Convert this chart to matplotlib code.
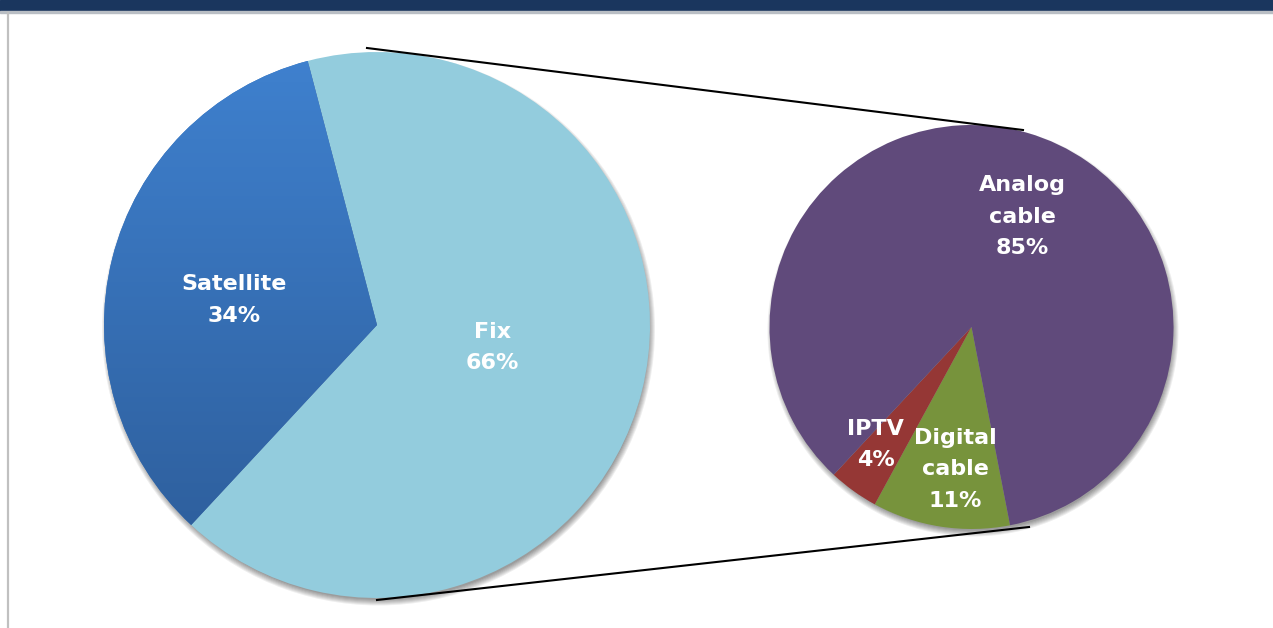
import numpy as np
import matplotlib
matplotlib.use("Agg")
import matplotlib.pyplot as plt
from matplotlib.colors import LinearSegmentedColormap
from matplotlib.patches import Circle, Rectangle

# Market split: reception mode, and breakdown of the fixed-line share
main_labels = ["Fix", "Satellite"]
main_values = [66, 34]
sub_labels = ["Digital\ncable", "IPTV", "Analog\ncable"]
sub_values = [11, 4, 85]

W, H = 1273, 628
fig = plt.figure(figsize=(W / 100, H / 100), dpi=100)
ax = fig.add_axes([0, 0, 1, 1])
ax.set_xlim(0, W)
ax.set_ylim(0, H)
ax.set_aspect("equal")
ax.axis("off")


def py(y):
    """Convert a top-down pixel row to the axes' bottom-up y."""
    return H - y


# Frame: navy header band, thin grey rule and left border
ax.add_patch(Rectangle((0, py(11)), W, 11, color="#1A365E", zorder=5))
ax.add_patch(Rectangle((0, py(13)), W, 2, color="#B9BEC4", zorder=5))
ax.plot([8, 8], [0, py(13)], color="#C0C0C0", lw=1.6, zorder=5)

big_c, big_r = (377, py(325)), 273
small_c, small_r = (971.5, py(327)), 202


def shadow(center, r):
    for k in range(7):
        ax.add_patch(Circle((center[0] + 1.5, center[1] - 4), r + k - 2.5,
                            color="#000000", alpha=0.065, lw=0, zorder=1))


shadow(big_c, big_r)
shadow(small_c, small_r)

# Main pie
big_colors = ["#93CCDD", "#3A76BF"]
wedges_big, _ = ax.pie(main_values, center=big_c, radius=big_r,
                       startangle=104.7, counterclock=False,
                       colors=big_colors,
                       wedgeprops=dict(linewidth=0))
for w in wedges_big:
    w.set_zorder(2)

# Vertical gradient fill for the satellite slice
grad = LinearSegmentedColormap.from_list("sat", ["#2C5B97", "#3F81CF"])
gy = np.linspace(0, 1, 256).reshape(-1, 1)
img = ax.imshow(gy, cmap=grad, origin="lower", aspect="auto",
                extent=(big_c[0] - big_r, big_c[0] + big_r,
                        big_c[1] - big_r, big_c[1] + big_r), zorder=3)
img.set_clip_path(wedges_big[1])

# Breakdown pie
small_colors = ["#77933C", "#953735", "#604A7B"]
wedges_small, _ = ax.pie(sub_values, center=small_c, radius=small_r,
                         startangle=-79, counterclock=False,
                         colors=small_colors,
                         wedgeprops=dict(linewidth=0))
for w in wedges_small:
    w.set_zorder(2)

ax.set_xlim(0, W)
ax.set_ylim(0, H)

# Connector lines between the pies
ax.plot([367, 1023], [py(48), py(130)], color="black", lw=1.5, zorder=4)
ax.plot([377, 1029], [py(600), py(527)], color="black", lw=1.5, zorder=4)

# Labels: (angle in degrees, fraction of radius) per slice
big_label_pos = [(-11, 0.43), (170, 0.53)]
small_label_pos = [(-96.6, 0.71), (-129.2, 0.75), (65.3, 0.60)]


def place_labels(center, r, labels, values, positions):
    for lab, val, (ang, frac) in zip(labels, values, positions):
        a = np.deg2rad(ang)
        x = center[0] + frac * r * np.cos(a)
        y = center[1] + frac * r * np.sin(a)
        ax.text(x, y, f"{lab}\n{val}%", ha="center", va="center",
                color="white", fontsize=16, fontweight="bold",
                family="DejaVu Sans", linespacing=1.72, zorder=6)


place_labels(big_c, big_r, main_labels, main_values, big_label_pos)
place_labels(small_c, small_r, sub_labels, sub_values, small_label_pos)

fig.savefig("out.png", dpi=100)
